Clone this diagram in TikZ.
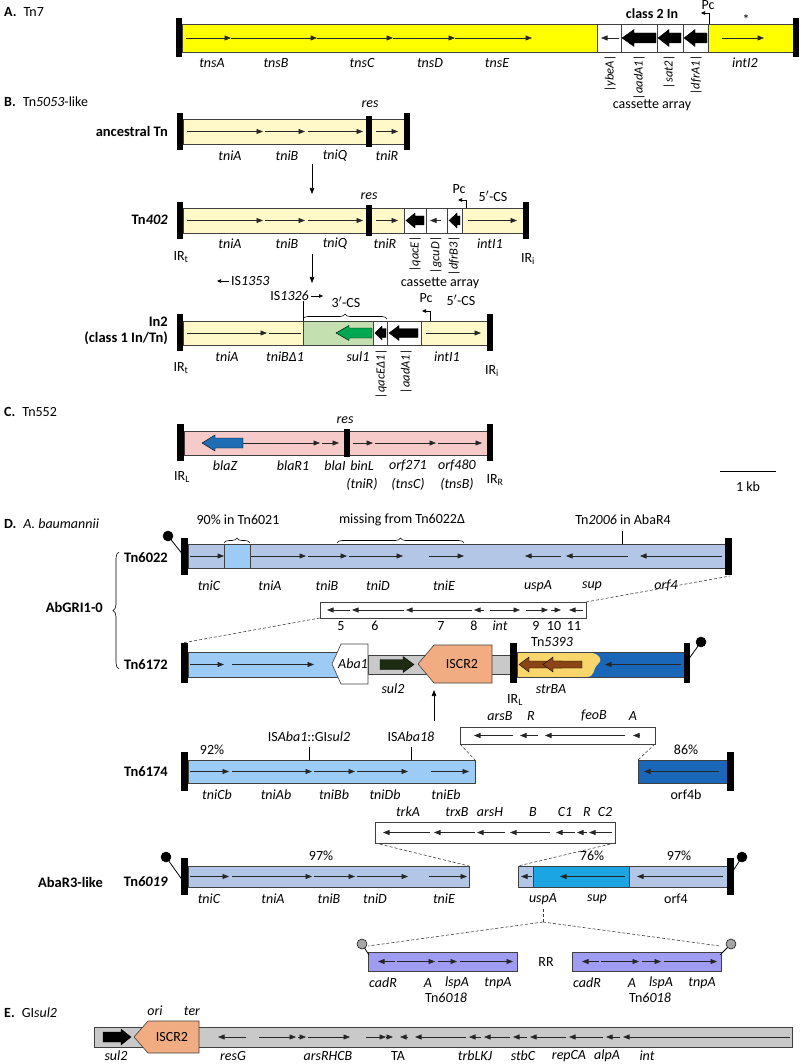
\documentclass[tikz,border=0pt]{standalone}
\usepackage{fontspec}
\setmainfont{Carlito}
\usetikzlibrary{arrows.meta, decorations.pathreplacing}

\definecolor{tnyel}{HTML}{FFFF00}
\definecolor{paleyel}{HTML}{FFF9C9}
\definecolor{palegrn}{HTML}{C4DFB0}
\definecolor{sulgrn}{HTML}{00A650}
\definecolor{palepink}{HTML}{F7CACA}
\definecolor{blazblue}{HTML}{1F6DB5}
\definecolor{steel}{HTML}{B3C6E6}
\definecolor{skyb}{HTML}{9CCBF6}
\definecolor{deepb}{HTML}{1A66B8}
\definecolor{brightb}{HTML}{1BA6E3}
\definecolor{iscr}{HTML}{F2AC82}
\definecolor{greyfill}{HTML}{C9C9C9}
\definecolor{tnyellow}{HTML}{F9D66B}
\definecolor{strbrown}{HTML}{8A4516}
\definecolor{suldark}{HTML}{1D2B12}
\definecolor{lilac}{HTML}{A09CF2}

% tip x, tail x, y, head length, head half height, shaft half height, fill
\newcommand{\blockarrow}[7]{%
  \pgfmathsetmacro{\bahx}{#1+#4*sign(#2-#1)}%
  \filldraw[fill=#7, draw=black, line width=0.4pt]
    (#1,#3) -- (\bahx,{#3-#5}) -- (\bahx,{#3-#6}) -- (#2,{#3-#6})
    -- (#2,{#3+#6}) -- (\bahx,{#3+#6}) -- (\bahx,{#3+#5}) -- cycle;}
% stick from, circle at, fill
\newcommand{\lollipop}[5]{%
  \draw[line width=0.8pt] (#1,#2) -- (#3,#4);
  \filldraw[fill=#5, draw=black, line width=0.5pt] (#3,#4) circle (5pt);}
\newcommand{\prm}{$'$}

\begin{document}
\begin{tikzpicture}[x=1pt, y=-1pt,
    lbl/.style={font=\fontsize{14}{16}\selectfont\itshape, inner sep=0pt},
    txt/.style={font=\fontsize{14}{16}\selectfont, inner sep=0pt},
    rowlbl/.style={font=\fontsize{14.5}{16.5}\selectfont\bfseries, inner sep=0pt, anchor=east, align=right},
    seclbl/.style={font=\fontsize{14}{16}\selectfont, inner sep=0pt, anchor=west},
    vlbl/.style={font=\fontsize{12.5}{14}\selectfont\itshape, inner sep=0pt, rotate=90, anchor=east},
    seg/.style={draw=black!75, line width=0.6pt},
    gene/.style={draw=black!85, line width=0.6pt, -{Triangle[length=6.5pt,width=5pt]}},
    bareline/.style={draw=black!85, line width=0.6pt},
    pcarrow/.style={line width=0.6pt, -{Triangle[length=4pt,width=3.5pt]}},
    downarrow/.style={line width=0.6pt, -{Triangle[length=6pt,width=4.5pt]}},
    zoomln/.style={black!75, line width=0.6pt, dash pattern=on 3pt off 2pt},
    tick/.style={line width=0.6pt},
    brc/.style={decorate, decoration={brace, amplitude=5pt}, line width=0.6pt}
]
\useasboundingbox (0,0) rectangle (800,1064);

% --- A: Tn7 ---
\node[seclbl] (ttlA) at (4,12) {\textbf{A.}\enspace Tn7};
\draw[seg, fill=tnyel] (182,24) rectangle (597,52);
\draw[seg, fill=white] (597,24) rectangle (708,52);
\foreach \x in {621,657,683} \draw[seg] (\x,24) -- (\x,52);
\draw[seg, fill=tnyel] (708,24) rectangle (793,52);
\fill (176,18) rectangle (182,57);
\fill (793,18) rectangle (799,57);
\foreach \s/\e in {186/231, 231/317, 317/393, 393/455, 455/532}
    \draw[gene] (\s,38) -- (\e,38);
\draw[gene] (619,38) -- (601,38);
\blockarrow{622}{656}{38}{12}{8.5}{5}{black}
\blockarrow{658}{681}{38}{11}{8.5}{5}{black}
\blockarrow{684}{707}{38}{11}{8.5}{5}{black}
\draw[gene] (722,38) -- (764,38);
\draw[pcarrow] (709,24) |- (701,13);
\node[txt] (pcA) at (708,5) {Pc};
\node[txt] (starA) at (746,20) {*};
\node[txt, font=\fontsize{14}{16}\selectfont\bfseries] (cl2) at (652,14) {class 2 In};
\foreach \x/\g [count=\i] in {212/tnsA, 276/tnsB, 362/tnsC, 430/tnsD, 497/tnsE, 745/intI2}
    \node[lbl] (a\i) at (\x,63) {\g};
\foreach \x/\g [count=\i] in {610/ybeA, 639/aadA1, 669/sat2, 696/dfrA1}
    \node[vlbl] (ac\i) at (\x,55) {\textbar\g\textbar};
\node[txt] (casA) at (652,105) {cassette array};

% --- B: Tn5053-like ---
\node[seclbl] (ttlB) at (4,102) {\textbf{B.}\enspace Tn\textit{5053}-like};

% ancestral Tn
\node[rowlbl] (anc) at (168,131) {ancestral Tn};
\draw[seg, fill=paleyel] (183,119) rectangle (405,144);
\fill (366,116) rectangle (372,147);
\fill (177,113) rectangle (183,150);
\fill (404,113) rectangle (410,150);
\foreach \s/\e in {187/263, 265/305, 308/363, 376/398}
    \draw[gene] (\s,131.5) -- (\e,131.5);
\foreach \x/\g [count=\i] in {230/tniA, 287/tniB, 335/tniQ, 387/tniR}
    \node[lbl] (b\i) at (\x,156) {\g};
\node[lbl] (resB1) at (370,104) {res};
\coordinate (dnB1) at (312,164);
\coordinate (dnB2) at (312,194);
\draw[downarrow] (dnB1) -- (dnB2);

% Tn402
\node[rowlbl] (tn402) at (168,220) {Tn\textit{402}};
\draw[seg, fill=paleyel] (183,208) rectangle (404,233);
\draw[seg, fill=white] (404,208) rectangle (462,233);
\foreach \x in {426,447} \draw[seg] (\x,208) -- (\x,233);
\draw[seg, fill=paleyel] (462,208) rectangle (523,233);
\fill (366,205) rectangle (372,236);
\fill (177,202) rectangle (183,239);
\fill (523,202) rectangle (529,239);
\foreach \s/\e in {187/263, 265/305, 308/363, 376/398, 468/517}
    \draw[gene] (\s,220.5) -- (\e,220.5);
\blockarrow{406}{424}{220.5}{9}{7.5}{4.5}{black}
\draw[gene] (441,220.5) -- (430,220.5);
\blockarrow{449}{460}{220.5}{8}{7.5}{4.5}{black}
\foreach \x/\g [count=\i] in {230/tniA, 287/tniB, 335/tniQ, 385/tniR, 490/intI1}
    \node[lbl] (c\i) at (\x,244) {\g};
\node[lbl] (resB2) at (369,196) {res};
\draw[pcarrow] (466,208) |- (458,200);
\node[txt] (pcB1) at (459,189) {Pc};
\node[txt] (csB1) at (493,196) {5\prm-CS};
\node[txt] (irt1) at (181,257) {IR\textsubscript{t}};
\node[txt] (iri1) at (528,259) {IR\textsubscript{i}};
\foreach \x/\g [count=\i] in {415/qacE, 436/gcuD, 454/dfrB3}
    \node[vlbl] (cc\i) at (\x,236) {\textbar\g\textbar};
\node[txt] (casB) at (440,283) {cassette array};
\coordinate (dnB3) at (312,254);
\coordinate (dnB4) at (312,283);
\draw[downarrow] (dnB3) -- (dnB4);
\coordinate (is53a) at (229,281);
\coordinate (is53b) at (217,281);
\draw[pcarrow] (is53a) -- (is53b);
\node[txt, anchor=west] (is1353) at (231,281) {IS\textit{1353}};

% In2
\node[rowlbl] (in2) at (168,331) {In2\\(class 1 In/Tn)};
\node[txt, anchor=east] (is1326) at (309,296) {IS\textit{1326}};
\coordinate (is26a) at (311,296);
\coordinate (is26b) at (323,296);
\draw[pcarrow] (is26a) -- (is26b);
\draw[tick] (303,301) -- (303,321);
\draw[brc] (303,319) -- (387,319);
\node[txt] (cs3) at (346,302) {3\prm-CS};
\draw[seg, fill=paleyel] (183,321) rectangle (303,345);
\draw[seg, fill=palegrn] (303,321) rectangle (373,345);
\draw[seg, fill=white] (373,321) rectangle (421,345);
\draw[seg] (387,321) -- (387,345);
\draw[seg, fill=paleyel] (421,321) rectangle (487,345);
\fill (177,314) rectangle (183,351);
\fill (487,314) rectangle (493,351);
\draw[gene] (187,333) -- (267,333);
\draw[bareline] (269,333) -- (301,333);
\blockarrow{336}{372}{333}{13}{7.5}{5}{sulgrn}
\blockarrow{375}{386}{333}{7}{7}{4.5}{black}
\blockarrow{389}{418}{333}{10}{7.5}{4.5}{black}
\draw[gene] (426,333) -- (481,333);
\draw[pcarrow] (430,321) |- (422,311);
\node[txt] (pcB2) at (426,298) {Pc};
\node[txt] (csB2) at (461,300) {5\prm-CS};
\foreach \x/\g [count=\i] in {227/tniA, 285/tniBΔ1, 358/sul1, 447/intI1}
    \node[lbl] (d\i) at (\x,357) {\g};
\node[txt] (irt2) at (181,368) {IR\textsubscript{t}};
\node[txt] (iri2) at (492,371) {IR\textsubscript{i}};
\foreach \x/\g [count=\i] in {381/qacEΔ1, 406/aadA1}
    \node[vlbl] (dc\i) at (\x,349) {\textbar\g\textbar};

% --- C: Tn552 ---
\node[seclbl] (ttlC) at (4,412) {\textbf{C.}\enspace Tn552};
\draw[seg, fill=palepink] (184,431) rectangle (487,455);
\fill (344,429) rectangle (350,457);
\fill (177,424) rectangle (184,461);
\fill (487,424) rectangle (493,461);
\blockarrow{202}{243}{443}{13}{8}{5}{blazblue}
\foreach \s/\e in {243/320, 322/339, 353/373, 375/436, 438/482}
    \draw[gene] (\s,443) -- (\e,443);
\node[lbl] (resC) at (345,420) {res};
\foreach \x/\g [count=\i] in {225/blaZ, 293/blaR1, 335/blaI, 362/binL, 408/orf271, 457/orf480}
    \node[lbl] (e\i) at (\x,466) {\g};
\foreach \x/\g [count=\i] in {362/tniR, 408/tnsC, 457/tnsB}
    \node[lbl] (ep\i) at (\x,484) {(\g)};
\node[txt] (irl1) at (182,477) {IR\textsubscript{L}};
\node[txt] (irr1) at (495,480) {IR\textsubscript{R}};
\coordinate (kbL) at (720,471);
\coordinate (kbR) at (776,471);
\draw[line width=0.8pt] (kbL) -- (kbR);
\node[txt] (kb) at (748,487) {1 kb};

% --- D: A. baumannii ---
\node[seclbl] (ttlD) at (4,524) {\textbf{D.}\enspace\textit{A. baumannii}};

% Tn6022
\node[rowlbl] (tn6022) at (168,558) {Tn6022};
\draw[seg, fill=steel] (188,544) rectangle (725,568);
\draw[seg, fill=skyb] (224,544) rectangle (250,568);
\fill (181,538) rectangle (188,575);
\fill (725,538) rectangle (732,575);
\lollipop{184}{556}{168}{536}{black}
\foreach \s/\e in {190/224, 251/306, 308/347, 349/403, 429/464, 561/525, 628/566, 722/640}
    \draw[gene] (\s,556) -- (\e,556);
\foreach \x/\g [count=\i] in {209/tniC, 270/tniA, 327/tniB, 378/tniD, 444/tniE, 538/uspA, 592/sup, 666/orf4}
    \node[lbl] (f\i) at (\x,586) {\g};
\node[txt] (pct90) at (238,520) {90\% in Tn6021};
\node[txt] (miss) at (402,520) {missing from Tn6022Δ};
\node[txt] (t2006) at (623,520) {Tn\textit{2006} in AbaR4};
\draw[brc] (224,543) -- (250,543);
\draw[brc] (337,543) -- (464,543);
\draw[tick] (622,531) -- (622,544);

% AbGRI1-0 brace
\node[rowlbl] (abg) at (103,607) {AbGRI1-0};
\draw[brc, decoration={brace, amplitude=6pt}] (119,669) -- (119,552);

% insert between Tn6022 and Tn6172
\draw[seg, fill=white] (320,602) rectangle (586,618);
\foreach \s/\e in {350/327, 404/352, 472/406, 484/474, 490/520, 526/548, 551/561, 583/569}
    \draw[gene] (\s,610) -- (\e,610);
\foreach \x/\g [count=\i] in {341/5, 375/6, 441/7, 474/8, 536/9, 554/10, 574/11}
    \node[txt] (g\i) at (\x,626) {\g};
\node[lbl] (gint) at (500,626) {int};
\coordinate (zA1) at (586,602);
\coordinate (zA2) at (730,576);
\coordinate (zB1) at (320,618);
\coordinate (zB2) at (182,643);
\draw[zoomln] (zA1) -- (zA2);
\draw[zoomln] (zB1) -- (zB2);

% Tn6172
\node[rowlbl] (tn6172) at (168,665) {Tn6172};
\draw[seg, fill=skyb] (188,652) rectangle (345,677);
\draw[seg, fill=greyfill] (368,655) rectangle (510,674);
\fill[deepb] (517,652) rectangle (684,677);
\fill[tnyellow] (517,652) -- (585,652) .. controls (598,652) and (604,659) .. (598,664)
    .. controls (592,669) and (596,677) .. (586,677) -- (517,677) -- cycle;
\draw[seg] (517,652) rectangle (684,677);
\draw[seg, fill=white] (332,664) -- (341,644) -- (368,644) -- (368,684) -- (341,684) -- cycle;
\draw[seg, fill=iscr] (418,664) -- (434,645) -- (492,645) -- (492,683) -- (434,683) -- cycle;
\fill (181,643) rectangle (188,683);
\fill (510,643) rectangle (517,683);
\fill (684,643) rectangle (690,683);
\lollipop{688}{660}{701}{642}{black}
\foreach \s/\e in {190/224, 232/314, 681/605}
    \draw[gene] (\s,664.5) -- (\e,664.5);
\blockarrow{414}{380}{664.5}{11}{8}{5}{suldark}
\blockarrow{519}{562}{664.5}{10}{7.5}{3.5}{strbrown}
\blockarrow{543}{582}{664.5}{10}{7.5}{3.5}{strbrown}
\node[lbl] (aba1) at (353,664) {Aba1};
\node[txt] (iscrD) at (462,664) {ISCR2};
\node[txt] (tn5393) at (552,642) {Tn\textit{5393}};
\node[lbl] (sul2D) at (393,689) {sul2};
\node[lbl] (strba) at (551,689) {strBA};
\node[txt] (irl2) at (515,700) {IR\textsubscript{L}};
\coordinate (upA) at (434,721);
\coordinate (upB) at (434,690);
\draw[downarrow] (upA) -- (upB);

% Tn6174
\draw[seg, fill=white] (460,727) rectangle (655,744);
\foreach \s/\e in {513/474, 538/520, 625/545, 640/633}
    \draw[gene] (\s,735.5) -- (\e,735.5);
\foreach \x/\g [count=\i] in {500/arsB, 531/R, 594/feoB, 633/A}
    \node[lbl] (h\i) at (\x,716) {\g};
\coordinate (zC1) at (460,744);
\coordinate (zC2) at (475,760);
\coordinate (zD1) at (655,744);
\coordinate (zD2) at (638,760);
\draw[zoomln] (zC1) -- (zC2);
\draw[zoomln] (zD1) -- (zD2);
\node[rowlbl] (tn6174) at (168,772) {Tn6174};
\draw[seg, fill=skyb] (188,760) rectangle (475,783);
\draw[seg, fill=deepb] (638,760) rectangle (727,783);
\fill (181,752) rectangle (188,791);
\fill (727,752) rectangle (734,791);
\foreach \s/\e in {190/229, 232/312, 314/355, 357/408, 431/469, 719/644}
    \draw[gene] (\s,771.5) -- (\e,771.5);
\foreach \x/\g [count=\i] in {217/tniCb, 276/tniAb, 334/tniBb, 385/tniDb, 446/tniEb}
    \node[lbl] (k\i) at (\x,795) {\g};
\node[txt] (orf4b) at (686,795) {orf4b};
\node[txt] (p92) at (212,750) {92\%};
\node[txt] (p86) at (686,750) {86\%};
\node[txt] (isgi) at (309,737) {IS\textit{Aba1}::GI\textit{sul2}};
\node[txt] (is18) at (411,737) {IS\textit{Aba18}};
\draw[tick] (309,747) -- (309,760);
\draw[tick] (411,747) -- (411,760);

% Tn6019
\draw[seg, fill=white] (375,822) rectangle (615,843);
\foreach \s/\e in {430/383, 475/434, 505/477, 550/510, 575/556, 587/577, 612/589}
    \draw[gene] (\s,832.5) -- (\e,832.5);
\foreach \x/\g [count=\i] in {408/trkA, 457/trxB, 490/arsH, 533/B, 565/C1, 587/R, 605/C2}
    \node[lbl] (m\i) at (\x,812) {\g};
\coordinate (zE1) at (375,843);
\coordinate (zE2) at (469,866);
\coordinate (zF1) at (615,843);
\coordinate (zF2) at (518,866);
\draw[zoomln] (zE1) -- (zE2);
\draw[zoomln] (zF1) -- (zF2);
\node[rowlbl] (abar3) at (103,882) {AbaR3-like};
\node[rowlbl] (tn6019) at (168,882) {Tn\textit{6019}};
\draw[seg, fill=steel] (188,866) rectangle (469,887);
\draw[seg, fill=steel] (518,866) rectangle (727,887);
\draw[seg, fill=brightb] (533,866) rectangle (629,887);
\fill (181,858) rectangle (188,895);
\fill (727,858) rectangle (734,895);
\lollipop{183}{881}{166}{857}{black}
\lollipop{731}{874}{742}{857}{black}
\foreach \s/\e in {190/229, 232/312, 314/355, 357/408, 429/467, 532/521, 625/560, 723/637}
    \draw[gene] (\s,876.5) -- (\e,876.5);
\foreach \x/\g [count=\i] in {209/tniC, 273/tniA, 329/tniB, 375/tniD, 444/tniE, 543/uspA, 597/sup}
    \node[lbl] (n\i) at (\x,899) {\g};
\node[txt] (orf4c) at (676,899) {orf4};
\node[txt] (p97a) at (321,856) {97\%};
\node[txt] (p76) at (592,856) {76\%};
\node[txt] (p97b) at (679,856) {97\%};
\coordinate (rrTop) at (543,909);
\coordinate (rrApex) at (543,922);
\coordinate (rrL) at (368,946);
\coordinate (rrR) at (720,946);
\draw[zoomln] (rrTop) -- (rrApex);
\draw[zoomln] (rrApex) -- (rrL);
\draw[zoomln] (rrApex) -- (rrR);

% Tn6018 copies
\foreach \dx [count=\j] in {0,204} {
    \draw[seg, fill=lilac] (368+\dx,952) rectangle (517+\dx,971);
    \foreach \s/\e in {395/378, 397/435, 438/457, 460/513}
        \draw[gene] (\s+\dx,961.5) -- (\e+\dx,961.5);
    \foreach \x/\g [count=\i] in {383/cadR, 428/A, 457/lspA, 498/tnpA}
        \node[lbl] (q\j\i) at (\x+\dx,983) {\g};
    \node[txt] (tn6018\j) at (446+\dx,998) {Tn\textit{6018}};
}
\lollipop{369}{955}{362}{944}{black!35}
\lollipop{720}{955}{731}{944}{black!35}
\node[txt] (rr) at (546,962) {RR};

% --- E: GIsul2 ---
\node[seclbl] (ttlE) at (4,1013) {\textbf{E.}\enspace GI\textit{sul2}};
\draw[seg, fill=greyfill] (94,1027) rectangle (792,1047);
\blockarrow{131}{103}{1037}{10}{8}{5}{black}
\draw[seg, fill=iscr] (134,1037) -- (148,1021) -- (199,1021) -- (199,1053) -- (148,1053) -- cycle;
\node[txt] (iscrE) at (172,1037) {ISCR2};
\node[lbl] (ori) at (155,1011) {ori};
\node[lbl] (ter) at (192,1011) {ter};
\foreach \s/\e in {246/218, 259/296, 298/306, 308/350, 366/386, 386/393,
                   408/400, 466/415, 481/469, 510/484, 527/513, 566/530, 603/569, 620/606, 790/623}
    \draw[gene] (\s,1037) -- (\e,1037);
\foreach \x/\g [count=\i] in {116/sul2, 233/resG, 328/arsRHCB, 475/trbLKJ, 523/stbC, 569/repCA, 607/alpA, 647/int}
    \node[lbl] (r\i) at (\x,1056) {\g};
\node[txt] (ta) at (398,1056) {TA};

\end{tikzpicture}
\end{document}
